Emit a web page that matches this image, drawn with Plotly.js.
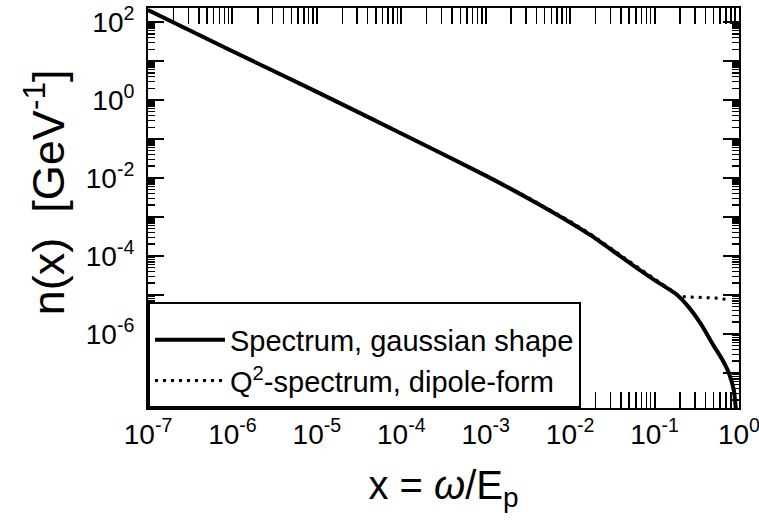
<!DOCTYPE html>
<html>
<head>
<meta charset="utf-8">
<script src="https://cdn.plot.ly/plotly-3.0.1.min.js"></script>
<style>
  html, body { margin: 0; padding: 0; background: #fff; }
  #chart { width: 759px; height: 528px; }
</style>
</head>
<body>
<div id="chart"></div>
<script>
// Solid curve: Spectrum, gaussian shape
const xSolid = [1e-7, 1e-6, 1e-5, 1e-4, 1e-3, 3.16e-3, 1e-2, 1.78e-2, 3.16e-2, 5.62e-2, 0.1, 0.178, 0.251, 0.355, 0.501, 0.631, 0.759, 0.871, 0.912, 0.955];
const ySolid = [204, 17.8, 1.62, 0.138, 0.0115, 3.02e-3, 7.24e-4, 3.31e-4, 1.38e-4, 5.62e-5, 2.40e-5, 1.07e-5, 5.01e-6, 1.78e-6, 5.01e-7, 2.24e-7, 1.0e-7, 3.55e-8, 1.41e-8, 5.0e-9];

// Dotted curve: Q^2-spectrum, dipole-form
const xDotted = [1e-7, 1e-6, 1e-5, 1e-4, 1e-3, 3.16e-3, 1e-2, 1.78e-2, 3.16e-2, 5.62e-2, 0.1, 0.158, 0.178, 0.2, 0.251, 0.355, 0.501, 0.631, 0.692, 0.724];
const yDotted = [204, 17.8, 1.62, 0.138, 0.0117, 3.16e-3, 7.76e-4, 3.55e-4, 1.48e-4, 6.03e-5, 2.57e-5, 1.32e-5, 1.12e-5, 9.12e-6, 8.91e-6, 8.71e-6, 8.51e-6, 8.13e-6, 7.59e-6, 6.03e-6];

const seriesNames = ['Spectrum, gaussian shape', 'Q<sup>2</sup>-spectrum, dipole-form'];

// Tick labels
const xTickVals = [1e-7, 1e-6, 1e-5, 1e-4, 1e-3, 1e-2, 1e-1, 1e0];
const xTickText = ['10<sup>-7</sup>', '10<sup>-6</sup>', '10<sup>-5</sup>', '10<sup>-4</sup>', '10<sup>-3</sup>', '10<sup>-2</sup>', '10<sup>-1</sup>', '10<sup>0</sup>'];
const yTickVals = [1e-6, 1e-4, 1e-2, 1e0, 1e2];
const yTickText = ['10<sup>-6</sup>', '10<sup>-4</sup>', '10<sup>-2</sup>', '10<sup>0</sup>', '10<sup>2</sup>'];
const yUnlabeledDecades = [1e-7, 1e-5, 1e-3, 1e-1, 1e1];

// Axis titles
const xTitle = 'x = <i>ω</i>/E<sub>p</sub>';
const yTitle = 'n(x)\u00a0\u00a0[GeV<sup>-1</sup>]';

// minor tick positions (2..9 in each decade)
function minorTicks(lo, hi) {
  const out = [];
  for (let e = lo; e < hi; e++) {
    for (let m = 2; m <= 9; m++) out.push(m * Math.pow(10, e));
  }
  return out;
}

const FONT = '"Liberation Sans", Arial, Helvetica, sans-serif';
const Y_RANGE = [-7.9, 2.36];

const traces = [
  {
    x: xSolid, y: ySolid, name: seriesNames[0], type: 'scatter', mode: 'lines',
    line: { color: '#000', width: 4, shape: 'spline', smoothing: 0.6 }
  },
  {
    x: xDotted, y: yDotted, name: seriesNames[1], type: 'scatter', mode: 'lines',
    line: { color: '#000', width: 3, dash: '3px,5px' }
  },
  {
    // carrier for the overlay axis holding the unlabeled decade ticks
    x: [], y: [], yaxis: 'y2', type: 'scatter', mode: 'lines',
    showlegend: false, hoverinfo: 'skip'
  }
];

const axisCommon = {
  type: 'log',
  showline: true, linecolor: '#000', linewidth: 2,
  mirror: 'allticks',
  ticks: 'inside', ticklen: 16, tickwidth: 2, tickcolor: '#000',
  showgrid: false, zeroline: false,
  tickmode: 'array',
  tickfont: { family: FONT, size: 28, color: '#000' }
};

const layout = {
  width: 759, height: 528,
  margin: { l: 148, r: 20, t: 8, b: 120 },
  paper_bgcolor: '#fff', plot_bgcolor: '#fff',
  font: { family: FONT, color: '#000' },
  showlegend: true,
  xaxis: Object.assign({}, axisCommon, {
    range: [-7.0005, 0.0005],
    tickvals: xTickVals, ticktext: xTickText,
    ticklabeloverflow: 'allow',
    minor: { tickmode: 'array', tickvals: minorTicks(-7, 0), ticks: 'inside', ticklen: 7, tickwidth: 1.5, tickcolor: '#000' },
    title: { text: xTitle, font: { family: FONT, size: 40, color: '#000' }, standoff: 22 }
  }),
  yaxis: Object.assign({}, axisCommon, {
    range: Y_RANGE,
    tickvals: yTickVals, ticktext: yTickText,
    ticklabelstandoff: 6,
    minor: { tickmode: 'array', tickvals: minorTicks(-8, 2), ticks: 'inside', ticklen: 7, tickwidth: 1.5, tickcolor: '#000' },
    title: { text: '' }
  }),
  yaxis2: {
    type: 'log', overlaying: 'y', side: 'left', anchor: 'x',
    range: Y_RANGE,
    showline: true, linecolor: '#000', linewidth: 2,
    mirror: 'allticks',
    ticks: 'inside', ticklen: 16, tickwidth: 2, tickcolor: '#000',
    tickmode: 'array', tickvals: yUnlabeledDecades,
    showticklabels: false, showgrid: false, zeroline: false
  },
  annotations: [
    {
      text: yTitle, xref: 'paper', yref: 'paper',
      x: -0.174, y: 0.54, xanchor: 'center', yanchor: 'middle',
      textangle: -90, showarrow: false,
      font: { family: FONT, size: 45, color: '#000' }
    }
  ],
  legend: {
    x: 0, y: 0, xanchor: 'left', yanchor: 'bottom',
    bgcolor: '#fff', bordercolor: '#000', borderwidth: 2,
    font: { family: FONT, size: 29, color: '#000' },
    itemwidth: 70,
    title: { text: '\u00a0', font: { size: 8 } }
  }
};

Plotly.newPlot('chart', traces, layout, { displayModeBar: false, staticPlot: true });
</script>
</body>
</html>
